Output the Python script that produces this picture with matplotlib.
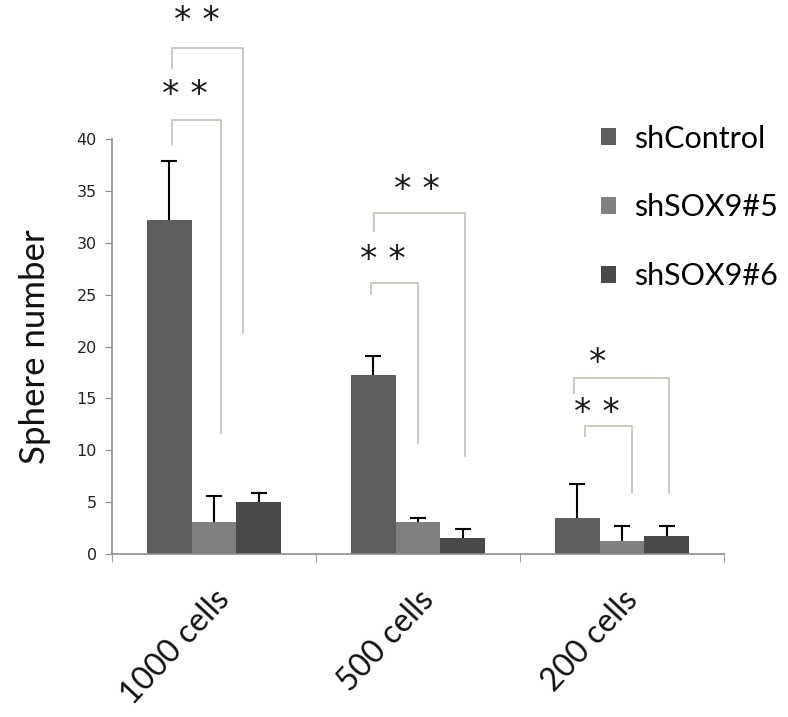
import matplotlib
matplotlib.use("Agg")
import matplotlib.pyplot as plt
import numpy as np

groups = ["1000 cells", "500 cells", "200 cells"]
series = ["shControl", "shSOX9#5", "shSOX9#6"]
sh_control = [32.2, 17.3, 3.5]
sh_sox9_5 = [3.1, 3.05, 1.3]
sh_sox9_6 = [5.0, 1.5, 1.7]
err_control = [5.7, 1.8, 3.25]
err_sox9_5 = [2.5, 0.4, 1.4]
err_sox9_6 = [0.85, 0.9, 1.0]

# significance brackets: x0, x1, top, left foot, right foot, star x, star y, label
brackets = [
    (-0.206, 0.033, 41.8, 39.5, 11.7, -0.142, 44.2, "**"),
    (-0.206, 0.141, 48.8, 46.8, 21.3, -0.085, 51.4, "**"),
    (0.768, 0.999, 26.15, 25.06, 10.67, 0.827, 28.3, "**"),
    (0.784, 1.230, 32.9, 31.1, 9.45, 0.994, 35.1, "**"),
    (1.819, 2.050, 12.37, 11.37, 5.88, 1.876, 13.6, "**"),
    (1.766, 2.230, 16.93, 15.5, 5.88, 1.882, 18.4, "*"),
]

COLORS = ["#5e5e5e", "#808080", "#4a4a4a"]
AXIS_GREY = "#8c8c8c"
BRACKET = "#c9c9bd"

fig = plt.figure(figsize=(7.88, 7.17), dpi=100)
ax = fig.add_axes([0.1421, 0.2273, 0.7766, 0.5788])

x = np.arange(len(groups))
w = 0.22
vals = [sh_control, sh_sox9_5, sh_sox9_6]
errs = [err_control, err_sox9_5, err_sox9_6]
for i, (name, v, e) in enumerate(zip(series, vals, errs)):
    pos = x + (i - 1) * w
    ax.bar(pos, v, width=w, color=COLORS[i], label=name, zorder=2)
    _, caps, _ = ax.errorbar(pos, v, yerr=[np.zeros(len(e)), e], fmt="none",
                             ecolor="black", elinewidth=1.5, capsize=6,
                             capthick=1.5, zorder=3)
    caps[0].remove()  # upper error only, no cap at the bar top

for x0, x1, top, lb, rb, sx, sy, lab in brackets:
    ax.plot([x0, x0, x1, x1], [lb, top, top, rb], color=BRACKET, lw=1.4,
            clip_on=False, zorder=1)
    ax.text(sx, sy, " ".join(lab), ha="center", va="center", fontsize=25,
            family="DejaVu Sans", color="#1a1a1a", clip_on=False)

ax.set_xlim(-0.5, 2.5)
ax.set_ylim(0, 40)
ax.set_yticks(range(0, 41, 5))
ax.tick_params(axis="y", labelsize=11.5, length=5, color=AXIS_GREY,
               labelcolor="#222222", pad=6)

ax.set_xticks(x)
ax.set_xticklabels(groups, rotation=47, ha="right", rotation_mode="anchor",
                   fontsize=23, family="Lato", color="#111111")
ax.tick_params(axis="x", which="major", length=0, pad=22)
ax.set_xticks([-0.5, 0.5, 1.5, 2.5], minor=True)
ax.tick_params(axis="x", which="minor", length=6, color=AXIS_GREY)

for s in ("top", "right"):
    ax.spines[s].set_visible(False)
for s in ("left", "bottom"):
    ax.spines[s].set_color(AXIS_GREY)
    ax.spines[s].set_linewidth(1.2)

ax.set_ylabel("Sphere number", fontsize=25, family="Lato", color="#111111",
              labelpad=18)

leg = ax.legend(loc="upper left", bbox_to_anchor=(0.763, 0.826),
                bbox_transform=fig.transFigure, frameon=False,
                prop={"family": "Lato", "size": 22}, labelspacing=1.33,
                handlelength=0.48, handleheight=0.48, handletextpad=0.6,
                borderaxespad=0, borderpad=0)

fig.savefig("out.png", dpi=100)
